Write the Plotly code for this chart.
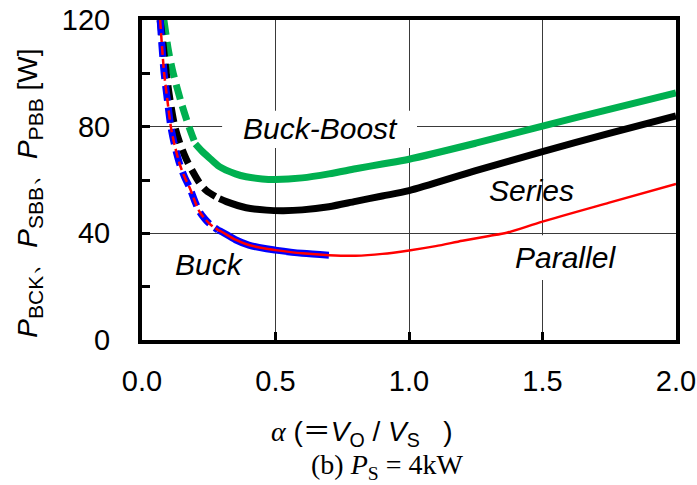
import plotly.graph_objects as go

# ---------------- data ----------------
# Buck-Boost (green)
bb_alpha_dash = [0.082, 0.10, 0.117, 0.15, 0.176, 0.20]
bb_p_dash = [120, 108, 100, 88, 80, 73.5]
bb_alpha = [0.20, 0.223, 0.25, 0.29, 0.35, 0.39, 0.45, 0.5, 0.6, 0.7, 0.8, 0.9, 1.0, 1.25, 1.5, 1.75, 2.0]
bb_p = [73.5, 71.0, 68.5, 65.0, 62.3, 61.2, 60.4, 60.2, 60.8, 62.3, 64.2, 66.0, 67.8, 73.8, 80.2, 86.5, 92.7]

# Series (black)
sr_alpha_dash = [0.068, 0.08, 0.091, 0.105, 0.123, 0.141, 0.165, 0.191, 0.215, 0.241, 0.29]
sr_p_dash = [120, 110, 100, 90, 80, 74, 68, 63, 59, 56, 53.0]
sr_alpha = [0.29, 0.316, 0.39, 0.466, 0.53, 0.6, 0.7, 0.8, 0.9, 1.0, 1.25, 1.5, 1.75, 2.0]
sr_p = [53.0, 51.9, 49.6, 48.7, 48.5, 48.8, 50.0, 52.0, 54.0, 56.0, 63.5, 70.6, 77.5, 84.0]

# Buck (blue)
bk_alpha_dash = [0.068, 0.075, 0.083, 0.095, 0.108, 0.12, 0.141, 0.16, 0.179, 0.2, 0.216, 0.235, 0.254, 0.285]
bk_p_dash = [120, 110, 100, 90, 80, 74, 66, 61, 57, 51.5, 48, 45.5, 43.5, 41.2]
bk_alpha = [0.285, 0.30, 0.35, 0.4, 0.466, 0.5, 0.6, 0.7]
bk_p = [41.2, 40.5, 37.6, 35.6, 34.2, 33.7, 32.5, 31.8]

# Parallel (red)
pl_alpha_dash = bk_alpha_dash
pl_p_dash = bk_p_dash
pl_alpha = [0.285, 0.30, 0.35, 0.4, 0.466, 0.5, 0.6, 0.7, 0.8, 0.9, 1.0, 1.1, 1.2, 1.3, 1.366, 1.5, 1.75, 2.0]
pl_p = [41.2, 40.5, 37.6, 35.6, 34.2, 33.7, 32.5, 31.8, 31.6, 32.3, 33.6, 35.2, 37.2, 39.0, 40.2, 44.4, 51.5, 58.5]

x_ticks = [0.0, 0.5, 1.0, 1.5, 2.0]
x_tick_text = ["0.0", "0.5", "1.0", "1.5", "2.0"]
y_ticks = [0, 40, 80, 120]
y_tick_text = ["0", "40", "80", "120"]

GREEN = "#00B050"
BLACK = "#000000"
BLUE = "#0000FF"
RED = "#FF0000"
SANS = "Liberation Sans, Arial, sans-serif"
SERIF = "Liberation Serif, Times New Roman, serif"

fig = go.Figure()


def add(xs, ys, color, width, dash):
    fig.add_trace(go.Scatter(
        x=xs, y=ys, mode="lines",
        line=dict(color=color, width=width, dash=dash, shape="spline", smoothing=0.8),
        showlegend=False, hoverinfo="skip"))


add(bb_alpha_dash, bb_p_dash, GREEN, 7, "15px,7px")
add(bb_alpha, bb_p, GREEN, 7, "solid")
add(sr_alpha_dash, sr_p_dash, BLACK, 7, "15px,7px")
add(sr_alpha, sr_p, BLACK, 7, "solid")
add(bk_alpha_dash, bk_p_dash, BLUE, 7, "15px,7px")
add(bk_alpha, bk_p, BLUE, 7, "solid")
add(pl_alpha_dash, pl_p_dash, RED, 2.5, "9px,4px")
add(pl_alpha, pl_p, RED, 2.5, "solid")

# white boxes behind labels (between grid and traces)
fig.add_shape(type="rect", xref="x", yref="y", x0=0.30, x1=1.03, y0=72, y1=86,
              fillcolor="white", line=dict(width=0), layer="between")
fig.add_shape(type="rect", xref="x", yref="y", x0=1.36, x1=1.84, y0=22.5, y1=39.3,
              fillcolor="white", line=dict(width=0), layer="between")

lab_font = dict(family=SANS, size=30, color="black")
for txt, ax, ay in [("Buck-Boost", 0.67, 79.5), ("Series", 1.46, 56.0),
                    ("Parallel", 1.585, 31.0), ("Buck", 0.254, 28.3)]:
    fig.add_annotation(x=ax, y=ay, xref="x", yref="y", text="<i>" + txt + "</i>",
                       showarrow=False, font=lab_font, xanchor="center", yanchor="middle")

# y axis title
sub = '<sub><span style="font-size:21px">%s</span></sub>'
ytitle = ("<i>P</i>" + sub % "BCK" + "、<i>P</i>" + sub % "SBB" + "、<i>P</i>" + sub % "PBB" + " [W]")
fig.add_annotation(x=-0.21, y=0.46, xref="paper", yref="paper", text=ytitle, textangle=-90,
                   showarrow=False, font=dict(family=SANS, size=28, color="black"),
                   xanchor="center", yanchor="middle")

# x axis title
xtitle = ('<span style="font-family:Liberation Serif"><i>α</i></span>\u00a0(' 
          '<span style="font-family:Noto Sans CJK JP">＝</span><i>V</i>'
          '<sub>O</sub> / <i>V</i><sub>S</sub>\u00a0\u00a0\u00a0)')
fig.add_annotation(x=0.412, y=-0.282, xref="paper", yref="paper", text=xtitle,
                   showarrow=False, font=dict(family=SANS, size=28, color="black"),
                   xanchor="center", yanchor="middle")

# caption
cap = "(b) <i>P</i><sub>S</sub> = 4kW"
fig.add_annotation(x=0.459, y=-0.395, xref="paper", yref="paper", text=cap,
                   showarrow=False, font=dict(family=SERIF, size=28, color="black"),
                   xanchor="center", yanchor="middle")

axis_common = dict(showline=True, linecolor="black", linewidth=4, mirror=True,
                   showgrid=True, gridcolor="#3a3a3a", gridwidth=1, zeroline=False,
                   ticks="inside", ticklen=8, tickwidth=3, tickcolor="black",
                   automargin=False,
                   tickfont=dict(family=SANS, size=29, color="black"))

fig.update_xaxes(range=[0, 2.0], tickvals=x_ticks, ticktext=x_tick_text,
                 ticklabelstandoff=12, **axis_common)
fig.update_yaxes(range=[0, 120], tickvals=y_ticks, ticktext=y_tick_text,
                 ticklabelstandoff=22,
                 minor=dict(tickvals=[20, 60, 100], ticks="inside", ticklen=8, tickwidth=3,
                            tickcolor="black", showgrid=False),
                 **axis_common)

fig.update_layout(width=697, height=485, margin=dict(l=142, r=21, t=20, b=145, autoexpand=False),
                  plot_bgcolor="white", paper_bgcolor="white", showlegend=False)

fig.write_html("out.html", config={"displayModeBar": False},
               post_script="document.body.style.margin='0';document.body.style.overflow='hidden';")
